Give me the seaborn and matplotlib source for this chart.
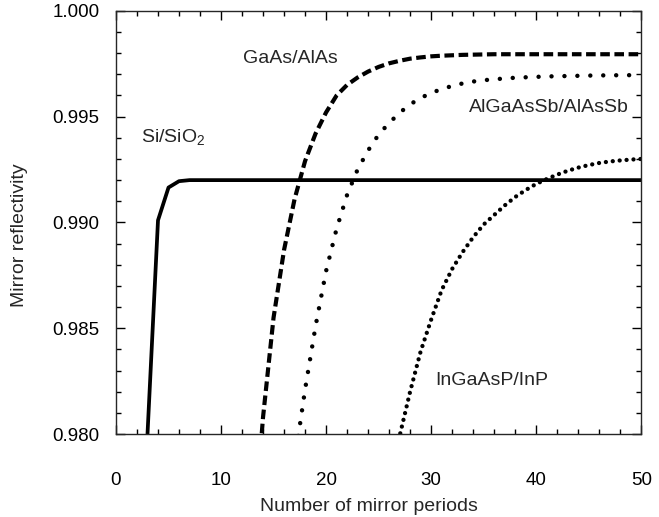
import numpy as np
import pandas as pd
import matplotlib
matplotlib.use('Agg')
import matplotlib.pyplot as plt
from matplotlib.ticker import MultipleLocator, FormatStrFormatter
import seaborn as sns

# ---- data (reflectivity vs. number of periods) ----
si_periods = [3, 4, 5, 6, 7, 10, 20, 30, 40, 50]
si_refl = [0.9800, 0.9901, 0.99165, 0.99195, 0.9920, 0.9920, 0.9920, 0.9920, 0.9920, 0.9920]

gaas_periods = list(range(13, 51))
gaas_refl = [0.9745, 0.9808, 0.9855, 0.9887, 0.9911, 0.9929, 0.9942, 0.9952,
             0.9960, 0.9965, 0.99685, 0.99713, 0.99735, 0.99752, 0.99764, 0.99774,
             0.9978, 0.99785, 0.99788, 0.9979, 0.99792, 0.99793, 0.99794, 0.99795,
             0.99795, 0.99795, 0.99795, 0.99795, 0.99795, 0.99795, 0.99795, 0.99795,
             0.99795, 0.99795, 0.99795, 0.99795, 0.99795, 0.99795]

algaassb_periods = list(range(17, 51))
algaassb_refl = [0.9787, 0.9821, 0.9851, 0.9877, 0.9897, 0.9913, 0.9925, 0.9934,
                 0.99415, 0.9947, 0.99518, 0.99558, 0.99588, 0.99612, 0.9963, 0.99645,
                 0.99657, 0.99666, 0.99672, 0.99677, 0.9968, 0.99684, 0.99686, 0.99688,
                 0.9969, 0.99691, 0.99692, 0.99693, 0.99694, 0.99695, 0.99695, 0.99696,
                 0.99696, 0.99697]

ingaasp_periods = list(range(26, 51))
ingaasp_refl = [0.9778, 0.9799, 0.9820, 0.9839, 0.9854, 0.9868, 0.9878, 0.9886,
                0.9893, 0.9899, 0.99035, 0.9908, 0.9912, 0.99153, 0.99182, 0.99205,
                0.99226, 0.99244, 0.99259, 0.99271, 0.99281, 0.99288, 0.99293, 0.99297,
                0.9930]

sns.set_style('ticks')
plt.rcParams['font.family'] = ['Liberation Sans', 'DejaVu Sans']
plt.rcParams['mathtext.fontset'] = 'custom'
plt.rcParams['mathtext.rm'] = 'Liberation Sans'
plt.rcParams['axes.linewidth'] = 1.0

fig = plt.figure(figsize=(6.59, 5.17), dpi=100)
ax = fig.add_axes([0.176, 0.1605, 0.797, 0.8185])

sns.lineplot(x=si_periods, y=si_refl, ax=ax, color='black', linewidth=2.7,
             solid_capstyle='butt')
sns.lineplot(x=gaas_periods, y=gaas_refl, ax=ax, color='black', linewidth=3.0,
             linestyle=(0, (2.3, 1.1)), dash_capstyle='butt')
sns.lineplot(x=algaassb_periods, y=algaassb_refl, ax=ax, color='black', linewidth=3.2,
             linestyle=(0, (0.01, 2.9)), dash_capstyle='round')
sns.lineplot(x=ingaasp_periods, y=ingaasp_refl, ax=ax, color='black', linewidth=3.1,
             linestyle=(0, (0.01, 1.6)), dash_capstyle='round')

ax.set_xlim(0, 50)
ax.set_ylim(0.980, 1.000)
ax.xaxis.set_major_locator(MultipleLocator(10))
ax.xaxis.set_minor_locator(MultipleLocator(2))
ax.yaxis.set_major_locator(MultipleLocator(0.005))
ax.yaxis.set_minor_locator(MultipleLocator(0.001))
ax.yaxis.set_major_formatter(FormatStrFormatter('%.3f'))

ax.tick_params(which='both', direction='in', top=True, right=True, width=1.0,
               labelsize=13.5, colors='black')
ax.tick_params(which='major', length=6.5)
ax.tick_params(which='minor', length=3.5)
ax.tick_params(axis='x', which='major', pad=27)
ax.tick_params(axis='y', which='major', pad=12)

ax.set_xlabel('Number of mirror periods', fontsize=14)
ax.set_ylabel('Mirror reflectivity', fontsize=14)
ax.xaxis.set_label_coords(0.482, -0.151)
ax.yaxis.set_label_coords(-0.168, 0.47)

ax.text(12.1, 0.99773, 'GaAs/AlAs', fontsize=14, ha='left', va='center')
ax.text(2.38, 0.9940, r'Si/SiO$_\mathregular{2}$', fontsize=14, ha='left', va='center')
ax.text(33.6, 0.99541, 'AlGaAsSb/AlAsSb', fontsize=14, ha='left', va='center')
ax.text(30.4, 0.98255, 'InGaAsP/InP', fontsize=14, ha='left', va='center')

fig.savefig('out.png', dpi=100, facecolor='white')
